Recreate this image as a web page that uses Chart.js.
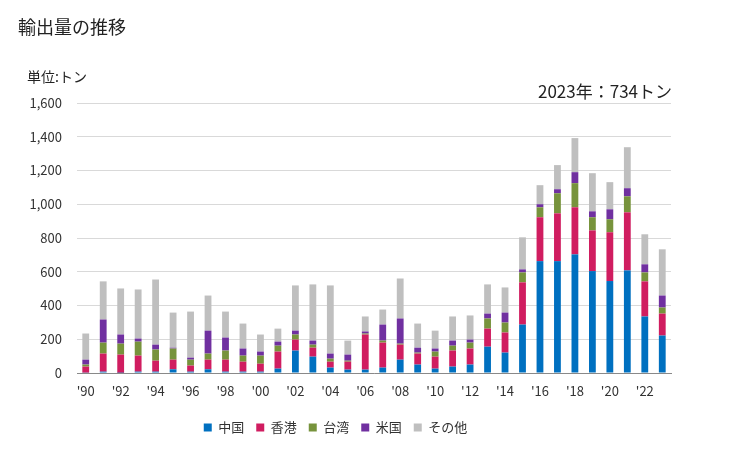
<!DOCTYPE html>
<html>
<head>
<meta charset="utf-8">
<script src="https://cdn.jsdelivr.net/npm/chart.js@4"></script>
<style>
    body { margin: 0; background: #fff; }
    #wrap { position: relative; width: 729px; height: 450px; font-family: 'Noto Sans CJK JP', sans-serif; color: #222; }
    .txt { position: absolute; white-space: nowrap; line-height: 1; }
</style>
</head>
<body>
<div id="wrap">
    <canvas id="exportChart" width="729" height="450"></canvas>
    <div class="txt" style="left:18px; top:17px; font-size:18px;">輸出量の推移</div>
    <div class="txt" style="left:27px; top:69px; font-size:14px;">単位:トン</div>
    <div class="txt" style="right:57px; top:82px; font-size:17px;">2023年：734トン</div>
</div>
<script>
    'use strict';

    var years = ['1990','1991','1992','1993','1994','1995','1996','1997','1998','1999',
                 '2000','2001','2002','2003','2004','2005','2006','2007','2008','2009',
                 '2010','2011','2012','2013','2014','2015','2016','2017','2018','2019',
                 '2020','2021','2022','2023'];

    var china  = [2,8,1,8,8,22,8,22,8,8, 8,26,133,97,32,20,20,32,79,50, 26,38,50,156,121,287,663,663,703,604, 545,608,335,222];
    var hk     = [36,107,108,95,65,57,36,57,71,59, 47,101,65,53,35,47,208,148,89,65, 71,95,95,107,119,250,260,283,279,241, 289,344,208,130];
    var taiwan = [12,65,65,83,66,66,35,36,54,36, 48,35,30,18,18,6,6,12,6,6, 30,29,35,60,59,59,59,119,143,78, 77,95,53,36];
    var usa    = [29,137,54,18,29,5,12,136,77,42, 24,24,23,24,30,36,12,95,149,29, 18,30,18,29,59,18,18,24,65,35, 59,48,48,71];
    var others = [155,226,273,291,386,208,273,208,154,148, 101,77,268,333,404,83,89,89,237,143, 106,143,143,173,149,190,113,143,202,226, 161,243,178,274];

    var yTicks = [0, 200, 400, 600, 800, 1000, 1200, 1400, 1600];

    var colors = {
        china  : "#0070c0",
        hk     : "#d01d60",
        taiwan : "#77933c",
        usa    : "#7030a0",
        others : "#bfbfbf",
        grid   : "#d9d9d9",
        axis   : "#898989",
        text   : "#333333"
    }

    var fontFamily = "'Noto Sans CJK JP', sans-serif"

    function series(label, data, color) {
        return {
            label: label,
            data: data,
            backgroundColor: color,
            borderWidth: 0,
            categoryPercentage: 1,
            barPercentage: 0.39
        };
    }

    new Chart(document.getElementById('exportChart'), {
        type: 'bar',
        data: {
            labels: years,
            datasets: [
                series('中国', china, colors.china),
                series('香港', hk, colors.hk),
                series('台湾', taiwan, colors.taiwan),
                series('米国', usa, colors.usa),
                series('その他', others, colors.others)
            ]
        },
        options: {
            responsive: false,
            animation: false,
            layout: {
                padding: { left: 0, right: 58, top: 103, bottom: 6 }
            },
            plugins: {
                tooltip: { enabled: false },
                legend: {
                    display: true,
                    position: 'bottom',
                    labels: {
                        color: colors.text,
                        boxWidth: 8,
                        boxHeight: 8,
                        padding: 12,
                        font: { size: 13, family: fontFamily }
                    }
                }
            },
            scales: {
                x: {
                    stacked: true,
                    grid: { display: false },
                    border: { display: true, color: colors.axis, width: 1 },
                    afterFit: function(scale) { scale.height = 36; },
                    ticks: {
                        color: colors.text,
                        autoSkip: false,
                        maxRotation: 0,
                        padding: 2,
                        font: { size: 13, family: fontFamily },
                        callback: function(value, index) {
                            return index % 2 === 0 ? "'" + years[index].slice(2) : '';
                        }
                    }
                },
                y: {
                    stacked: true,
                    min: 0,
                    max: 1600,
                    afterFit: function(scale) { scale.width = 77; },
                    afterBuildTicks: function(scale) {
                        scale.ticks = yTicks.map(function(v) { return { value: v }; });
                    },
                    grid: { color: colors.grid, drawTicks: false },
                    border: { display: false },
                    ticks: {
                        color: colors.text,
                        padding: 15,
                        font: { size: 13, family: fontFamily },
                        callback: function(value) { return value.toLocaleString('en-US'); }
                    }
                }
            }
        }
    });
</script>
</body>
</html>
